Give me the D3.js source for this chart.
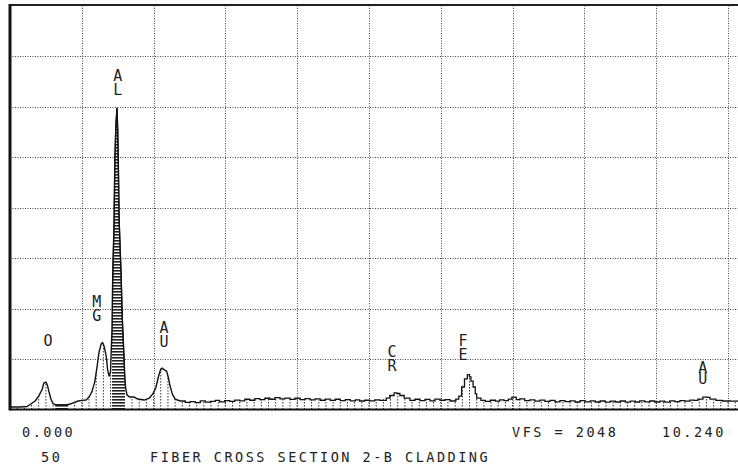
<!DOCTYPE html>
<html>
<head>
<meta charset="utf-8">
<script src="https://cdn.jsdelivr.net/npm/d3@7"></script>
<style>
  html, body { margin: 0; padding: 0; background: #fff; }
  svg { display: block; }
  text { font-family: "DejaVu Sans Mono", monospace; fill: #222; }
  text.vlab { writing-mode: vertical-rl; text-orientation: upright; }
</style>
</head>
<body>
<svg id="chart" width="738" height="464"></svg>
<script>
// ---- data ----
const energies = [0, 0.14, 0.24, 0.29, 0.35, 0.40, 0.45, 0.47, 0.50, 0.52, 0.54, 0.57, 0.60, 0.64, 0.70, 0.78, 0.84, 0.89, 0.95, 1.00,
  1.06, 1.10, 1.14, 1.18, 1.21, 1.24, 1.27, 1.29, 1.31, 1.34, 1.36, 1.38, 1.40, 1.42, 1.43, 1.45, 1.46, 1.475, 1.49, 1.50,
  1.51, 1.52, 1.545, 1.565, 1.58, 1.595, 1.61, 1.63, 1.67, 1.73, 1.78, 1.87, 1.94, 1.99, 2.03, 2.07, 2.10, 2.12, 2.14, 2.18,
  2.20, 2.23, 2.26, 2.30, 2.37, 2.44, 2.51, 2.58, 2.65, 2.72, 2.79, 2.86, 2.92, 2.99, 3.06, 3.13, 3.20, 3.27, 3.34, 3.41,
  3.48, 3.55, 3.62, 3.69, 3.76, 3.83, 3.90, 3.97, 4.04, 4.11, 4.18, 4.25, 4.32, 4.39, 4.46, 4.53, 4.60, 4.67, 4.74, 4.81,
  4.87, 4.94, 5.01, 5.08, 5.15, 5.24, 5.29, 5.35, 5.39, 5.43, 5.49, 5.57, 5.64, 5.71, 5.78, 5.85, 5.92, 5.99, 6.06, 6.13,
  6.21, 6.25, 6.29, 6.33, 6.37, 6.40, 6.42, 6.45, 6.48, 6.50, 6.56, 6.62, 6.69, 6.76, 6.82, 6.88, 6.94, 6.99, 7.05, 7.10,
  7.17, 7.24, 7.31, 7.38, 7.45, 7.52, 7.59, 7.66, 7.73, 7.80, 7.87, 7.94, 8.01, 8.08, 8.15, 8.22, 8.29, 8.36, 8.43, 8.50,
  8.57, 8.64, 8.71, 8.77, 8.84, 8.91, 8.98, 9.05, 9.12, 9.19, 9.26, 9.33, 9.40, 9.47, 9.53, 9.58, 9.65, 9.71, 9.75, 9.83,
  9.92, 10.03, 10.14, 10.24];
const counts = [13, 13, 15, 28, 43, 68, 104, 134, 139, 124, 94, 53, 30, 23, 23, 23, 28, 35, 43, 46,
  48, 63, 89, 139, 210, 291, 332, 340, 322, 271, 200, 170, 190, 403, 656, 960, 1265, 1442, 1528, 1417,
  1214, 960, 707, 454, 327, 200, 109, 73, 63, 63, 53, 48, 58, 79, 109, 170, 205, 210, 203, 195,
  170, 119, 79, 53, 43, 36, 40, 35, 44, 37, 41, 46, 39, 45, 41, 48, 44, 52, 47, 55,
  50, 57, 52, 60, 54, 58, 51, 57, 50, 55, 49, 54, 47, 53, 46, 52, 45, 50, 44, 49,
  43, 47, 44, 49, 46, 58, 71, 84, 81, 71, 58, 46, 52, 45, 51, 44, 53, 47, 50, 43,
  53, 68, 114, 155, 177, 165, 144, 114, 79, 58, 46, 41, 47, 42, 49, 45, 53, 63, 50, 54,
  45, 49, 42, 48, 41, 46, 39, 45, 40, 44, 38, 45, 39, 44, 38, 43, 37, 42, 38, 43,
  37, 42, 38, 44, 39, 43, 38, 42, 37, 44, 40, 45, 42, 48, 46, 53, 63, 61, 53, 46,
  43, 42, 44, 42];

const peakLabels = ["O", "MG", "AL", "AU", "CR", "FE", "AU"];
const peakEnergies = [0.53, 1.21, 1.50, 2.145, 5.32, 6.31, 9.65];
const peakLabelCounts = [357, 520, 1666, 390, 264, 322, 200];   // centre of each stacked label

const roiStart = [0.63, 1.42];
const roiEnd = [0.81, 1.60];

const xTicks = d3.range(0, 11, 1);          // 1 keV grid
const yTicks = d3.range(0, 2049, 256);      // VFS / 8
const vfs = 2048;
const eMin = 0, eMax = 10.24;
const footer1 = ["0.000", "VFS = 2048", "10.240"];
const footer2 = ["50", "FIBER CROSS SECTION 2-B CLADDING"];

// ---- layout ----
const svg = d3.select("#chart");
const pLeft = 10, pTop = 5.5, pBottom = 409.5;
const x = d3.scaleLinear().domain([eMin, eMax]).range([pLeft, pLeft + 10.24 * 71.8]);
const y = d3.scaleLinear().domain([0, vfs]).range([pBottom, pTop]);

const data = energies.map((e, i) => ({e, c: counts[i]}));

// hatch pattern
const defs = svg.append("defs");
const pat = defs.append("pattern").attr("id", "hatch").attr("patternUnits", "userSpaceOnUse")
  .attr("width", 4).attr("height", 3);
pat.append("rect").attr("width", 4).attr("height", 3).attr("fill", "#fff");
pat.append("rect").attr("width", 4).attr("height", 1.6).attr("fill", "#222");

// grid
const grid = svg.append("g").attr("stroke", "#444").attr("stroke-width", 1).attr("stroke-dasharray", "1,1.5");
grid.selectAll("line.v").data(xTicks.filter(d => d > 0)).join("line")
  .attr("x1", d => Math.round(x(d)) + 0.5).attr("x2", d => Math.round(x(d)) + 0.5)
  .attr("y1", pTop).attr("y2", pBottom);
grid.selectAll("line.h").data(yTicks.filter(d => d > 0 && d < vfs)).join("line")
  .attr("x1", pLeft).attr("x2", 738)
  .attr("y1", d => Math.round(y(d)) + 0.5).attr("y2", d => Math.round(y(d)) + 0.5);

// area for ROI hatch
const area = d3.area().x(d => x(d.e)).y0(y(0)).y1(d => y(d.c));
roiStart.forEach((s, i) => {
  const cid = "roi" + i;
  defs.append("clipPath").attr("id", cid).append("rect")
    .attr("x", x(s)).attr("width", x(roiEnd[i]) - x(s)).attr("y", 0).attr("height", 464);
  svg.append("path").datum(data).attr("d", area).attr("fill", "url(#hatch)")
    .attr("stroke", "#222").attr("stroke-width", 1.2).attr("clip-path", `url(#${cid})`);
});

// dotted markers under the curve every 0.1 keV
const interp = e => {
  const i = d3.bisector(d => d.e).right(data, e);
  if (i <= 0) return data[0].c;
  if (i >= data.length) return data[data.length - 1].c;
  const a = data[i - 1], b = data[i];
  return a.c + (b.c - a.c) * (e - a.e) / (b.e - a.e);
};
const marks = d3.range(0.1, 10.24, 0.1).filter(e => !roiStart.some((s, i) => e >= s && e <= roiEnd[i]));
svg.append("g").attr("stroke", "#333").attr("stroke-width", 1).attr("stroke-dasharray", "1.5,1.5")
  .selectAll("line").data(marks).join("line")
  .attr("x1", d => x(d)).attr("x2", d => x(d))
  .attr("y1", pBottom).attr("y2", d => y(interp(d)));

// spectrum trace
const line = d3.line().x(d => x(d.e)).y(d => y(d.c)).curve(d3.curveStepAfter);
const lineSmooth = d3.line().x(d => x(d.e)).y(d => y(d.c));
svg.append("path").datum(data.filter(d => d.e > 2.3 && d.e < 10.3)).attr("d", line).attr("fill", "none")
  .attr("stroke", "#111").attr("stroke-width", 1.3);
svg.append("path").datum(data.filter(d => d.e <= 2.37)).attr("d", lineSmooth).attr("fill", "none")
  .attr("stroke", "#111").attr("stroke-width", 1.4).attr("stroke-linejoin", "round");

// frame
svg.append("line").attr("x1", pLeft).attr("x2", 738).attr("y1", pTop - 0.5).attr("y2", pTop - 0.5)
  .attr("stroke", "#222").attr("stroke-width", 2);
svg.append("line").attr("x1", pLeft).attr("x2", pLeft).attr("y1", pTop - 1.5).attr("y2", pBottom + 1)
  .attr("stroke", "#111").attr("stroke-width", 3);
svg.append("line").attr("x1", pLeft).attr("x2", 738).attr("y1", pBottom).attr("y2", pBottom)
  .attr("stroke", "#111").attr("stroke-width", 2);

// peak labels: letters stacked upright in vertical writing mode
const lab = svg.append("g").attr("font-size", 15).attr("text-anchor", "middle");
peakLabels.forEach((t, i) => {
  lab.append("text").attr("class", "vlab")
    .attr("x", x(peakEnergies[i]))
    .attr("y", y(peakLabelCounts[i]))
    .attr("letter-spacing", i === 6 ? -7 : -4)
    .text(t);
});

// footer text
const ft = svg.append("g").attr("font-size", 13.5).attr("letter-spacing", 2.5);
ft.append("text").attr("x", 22).attr("y", 437).text(footer1[0]);
ft.append("text").attr("x", 512).attr("y", 437).text(footer1[1]);
ft.append("text").attr("x", 662).attr("y", 437).text(footer1[2]);
ft.append("text").attr("x", 41).attr("y", 462).text(footer2[0]);
ft.append("text").attr("x", 150).attr("y", 462).text(footer2[1]);
</script>
</body>
</html>
